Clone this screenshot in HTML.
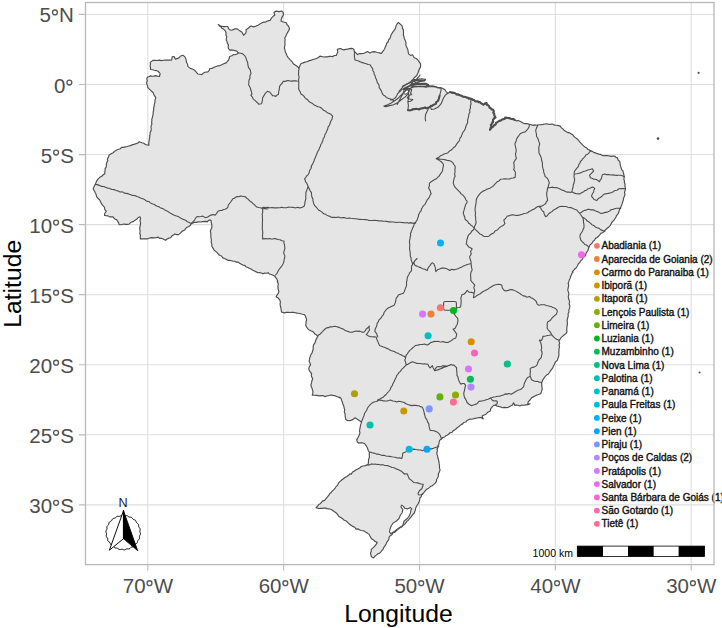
<!DOCTYPE html>
<html><head><meta charset="utf-8"><style>
html,body{margin:0;padding:0;background:#fff;width:722px;height:628px;overflow:hidden;position:relative}
text{font-family:"Liberation Sans",sans-serif}
.ax{font-size:20.5px;fill:#4D4D4D}
.at{font-size:24.7px;fill:#000}
.lg{font-size:10.0px;fill:#111;stroke:#111;stroke-width:0.38px}
.sb{font-size:10.5px;fill:#000}
</style></head><body>
<svg width="722" height="628" viewBox="0 0 722 628" style="position:absolute;left:0;top:0">
<defs><clipPath id="pc"><rect x="85.5" y="2.5" width="628.5" height="562.1"/></clipPath></defs>
<path d="M85.5 14.44H714.0M85.5 84.50H714.0M85.5 154.56H714.0M85.5 224.62H714.0M85.5 294.68H714.0M85.5 364.74H714.0M85.5 434.80H714.0M85.5 504.86H714.0M147.80 2.5V564.6M283.65 2.5V564.6M419.50 2.5V564.6M555.35 2.5V564.6M691.20 2.5V564.6" stroke="#DEDEDE" stroke-width="1.1" fill="none"/>
<g clip-path="url(#pc)" stroke-linejoin="round" stroke-linecap="round">
<path d="M371.50 556.80 L370.95 555.03 L370.39 553.20 L371.23 551.43 L371.17 549.40 L373.62 547.42 L374.97 545.91 L376.16 544.40 L377.21 542.40 L374.76 541.34 L373.56 539.95 L371.93 539.07 L370.81 537.63 L369.95 536.04 L369.19 534.38 L367.68 533.36 L366.34 532.62 L365.04 531.59 L363.38 530.73 L361.52 530.45 L359.72 530.02 L358.14 528.93 L356.06 529.11 L354.78 527.24 L352.80 526.40 L351.06 525.26 L349.38 524.03 L347.81 522.64 L346.41 521.02 L344.22 520.24 L342.54 518.69 L340.69 517.40 L338.67 516.33 L337.54 514.35 L335.97 512.78 L334.16 511.58 L332.38 510.24 L330.68 509.22 L328.73 508.81 L327.06 508.67 L325.43 508.17 L323.75 508.04 L322.11 508.43 L320.38 508.24 L318.79 508.58 L316.04 507.60 L317.55 506.04 L318.77 504.52 L320.22 503.67 L321.39 502.49 L322.39 501.10 L324.61 500.36 L326.01 498.51 L327.44 496.83 L328.93 495.14 L329.78 493.53 L331.24 492.49 L332.19 490.98 L333.87 489.67 L335.19 488.06 L336.30 486.29 L337.77 484.79 L338.62 482.82 L340.12 481.37 L341.72 480.07 L343.38 478.81 L344.98 477.47 L346.85 476.49 L348.57 475.32 L349.99 473.73 L351.39 474.19 L352.29 472.34 L353.97 471.29 L355.81 470.01 L357.84 469.02 L359.64 467.95 L361.33 466.57 L363.25 466.02 L365.21 465.64 L367.84 464.44 L367.91 464.85 L368.41 462.90 L368.48 461.06 L368.56 459.15 L369.50 457.35 L369.25 455.40 L369.36 452.33 L368.23 450.43 L367.37 447.75 L366.10 445.54 L364.53 443.50 L362.03 442.79 L360.39 442.81 L358.96 443.18 L357.28 442.05 L356.79 439.65 L357.74 438.08 L358.51 436.50 L359.41 434.73 L359.91 432.84 L359.52 430.82 L359.85 428.94 L360.22 427.06 L360.53 425.17 L361.07 423.63 L361.48 422.03 L360.00 420.96 L357.38 419.30 L355.11 417.73 L352.65 419.65 L350.06 420.74 L347.03 420.41 L345.82 419.48 L345.36 417.34 L345.13 415.13 L344.98 413.44 L344.22 411.83 L344.76 410.03 L344.23 408.36 L343.90 406.66 L343.41 405.00 L342.64 403.41 L342.22 401.73 L341.56 400.17 L341.05 398.40 L339.72 397.17 L339.99 397.89 L338.24 397.08 L336.55 396.45 L334.95 395.64 L333.02 395.39 L331.24 394.95 L329.77 395.24 L328.22 395.72 L326.60 395.93 L325.02 396.68 L323.38 395.67 L321.68 395.65 L319.97 395.81 L318.11 395.60 L316.24 395.39 L314.37 395.25 L312.27 395.25 L312.81 393.33 L312.94 391.67 L312.47 390.00 L312.07 388.34 L311.31 386.76 L310.89 385.00 L311.53 382.89 L311.88 380.79 L312.80 378.75 L311.79 377.16 L311.25 375.52 L311.63 373.61 L310.44 372.07 L309.30 370.56 L308.79 368.75 L309.24 366.69 L310.53 365.00 L310.02 362.94 L309.08 361.23 L309.54 359.43 L309.80 357.43 L310.51 355.89 L310.97 354.26 L312.10 352.90 L312.53 351.26 L313.16 349.22 L313.18 347.05 L313.51 344.94 L314.60 343.43 L315.33 341.81 L315.79 340.13 L316.74 338.25 L317.79 336.23 L316.40 334.85 L314.83 333.92 L313.76 332.49 L312.42 331.35 L310.79 330.79 L309.29 329.95 L307.86 328.89 L306.57 327.00 L305.67 324.95 L306.16 323.39 L305.95 321.66 L306.64 319.96 L306.09 318.03 L305.47 316.21 L304.42 314.59 L302.52 314.24 L300.60 313.74 L298.71 313.27 L296.98 313.17 L295.26 312.69 L293.52 312.34 L291.77 312.29 L290.00 312.52 L288.25 312.36 L286.50 312.23 L284.75 312.87 L283.00 312.36 L281.52 312.24 L281.25 310.39 L280.97 308.31 L280.48 306.25 L280.04 304.19 L280.43 302.06 L279.86 300.06 L278.92 298.79 L277.77 297.67 L276.16 297.01 L277.00 295.05 L278.29 293.33 L278.95 291.28 L278.25 289.62 L278.00 287.96 L277.81 286.29 L278.28 284.54 L277.98 282.88 L277.18 281.29 L277.76 281.12 L277.05 279.39 L275.96 277.85 L274.91 276.35 L273.15 275.21 L271.11 274.55 L269.47 274.03 L268.15 272.60 L267.98 272.87 L266.33 273.23 L264.61 273.11 L263.00 273.81 L261.41 273.01 L259.74 272.63 L257.91 272.74 L256.23 271.87 L254.58 271.00 L252.90 270.21 L251.37 269.10 L249.57 268.53 L247.97 267.57 L246.18 266.96 L244.83 265.50 L242.94 265.12 L241.32 264.20 L239.70 263.27 L238.13 262.16 L236.32 262.15 L234.76 261.30 L233.00 261.25 L231.34 260.81 L229.67 260.40 L227.85 260.41 L226.31 259.21 L224.54 258.59 L222.76 257.88 L221.49 256.03 L219.49 255.24 L217.98 253.77 L216.89 252.36 L215.54 251.21 L214.13 250.10 L213.01 248.12 L211.80 246.23 L211.89 244.15 L211.16 242.10 L211.45 240.00 L210.97 237.77 L210.80 235.53 L210.89 233.36 L210.31 231.30 L211.05 229.27 L211.93 227.23 L211.92 225.07 L211.35 223.01 L211.09 220.55 L209.60 219.90 L208.19 220.59 L207.46 221.83 L205.50 221.34 L202.70 221.57 L200.60 221.97 L198.45 221.91 L196.43 222.32 L194.32 222.37 L191.40 223.36 L190.41 225.25 L188.86 226.46 L187.27 227.18 L185.93 228.25 L184.88 229.71 L183.49 230.65 L181.93 231.34 L180.46 233.13 L178.59 234.62 L176.72 234.63 L174.96 233.95 L173.35 235.03 L171.78 236.08 L170.66 237.76 L168.75 238.16 L167.10 239.04 L165.51 240.32 L163.11 238.92 L161.47 238.27 L159.58 238.32 L158.04 237.10 L155.92 237.76 L153.83 237.84 L151.71 237.56 L149.63 237.95 L147.62 238.80 L145.50 238.81 L143.83 238.74 L142.17 238.89 L140.31 238.94 L140.24 237.01 L140.50 235.24 L139.77 233.52 L140.15 231.75 L139.95 230.00 L139.69 228.10 L140.10 226.24 L140.49 224.38 L140.51 222.50 L139.94 220.70 L140.60 218.79 L140.12 216.77 L138.17 217.50 L136.93 219.05 L134.99 220.18 L133.23 221.59 L130.99 222.29 L129.33 223.94 L127.63 224.33 L125.93 224.32 L124.22 224.13 L122.58 224.21 L120.92 224.72 L119.09 224.77 L118.75 222.82 L117.64 221.47 L116.89 219.88 L115.27 219.29 L114.00 218.31 L113.07 216.84 L111.32 216.82 L109.61 216.88 L108.07 215.86 L106.15 215.76 L104.50 215.40 L104.78 213.23 L106.32 211.25 L104.77 209.54 L104.53 207.34 L102.97 205.65 L101.63 203.83 L100.54 201.85 L99.57 199.79 L97.83 198.24 L96.45 196.40 L96.19 194.58 L95.36 192.99 L94.69 191.41 L93.20 188.78 L94.13 186.45 L95.25 184.39 L95.97 182.81 L96.59 181.18 L98.18 178.90 L99.77 177.34 L101.75 176.25 L103.20 174.77 L104.88 173.68 L104.74 172.04 L105.11 170.39 L105.07 168.67 L106.20 167.05 L106.38 165.43 L106.39 163.78 L106.98 162.25 L107.72 160.75 L107.32 159.01 L108.27 157.60 L109.20 154.96 L111.12 153.75 L113.17 152.75 L114.82 151.17 L116.75 150.01 L118.49 149.32 L120.28 148.72 L121.70 147.37 L123.68 147.42 L125.54 146.93 L127.19 146.54 L128.82 146.00 L130.47 145.62 L132.05 144.87 L133.74 144.43 L135.34 143.90 L137.49 143.31 L139.24 141.78 L141.86 142.72 L143.74 143.27 L145.42 144.55 L147.05 144.95 L148.85 145.12 L148.81 143.10 L149.02 141.22 L149.32 139.35 L149.71 137.50 L149.65 135.80 L150.12 134.16 L150.16 132.47 L151.00 130.88 L151.21 129.22 L151.04 127.51 L151.02 125.80 L151.91 124.23 L151.58 122.47 L151.87 120.81 L151.81 119.10 L152.39 117.48 L152.79 115.62 L153.13 113.75 L153.17 111.83 L153.75 110.00 L153.62 108.05 L154.17 106.22 L154.32 104.31 L154.91 102.48 L154.93 100.75 L155.25 99.08 L155.83 97.56 L154.04 95.12 L153.06 92.45 L151.52 91.23 L150.15 89.83 L148.85 88.65 L147.67 87.41 L147.59 85.78 L146.90 84.18 L146.59 82.50 L147.35 80.71 L146.77 78.80 L147.41 77.13 L148.90 76.75 L150.42 75.85 L152.21 76.30 L153.89 76.10 L155.50 75.61 L157.33 76.08 L159.41 76.48 L160.18 73.75 L159.27 72.48 L158.00 71.25 L156.18 70.58 L154.31 70.23 L152.45 69.72 L150.55 69.45 L150.60 67.82 L150.16 66.25 L150.42 64.40 L150.31 62.35 L152.84 60.36 L155.07 60.34 L157.16 60.46 L159.23 60.15 L161.36 60.63 L163.42 60.22 L165.50 60.11 L167.58 60.11 L169.67 60.16 L171.74 59.99 L172.13 56.75 L174.17 56.51 L174.67 57.84 L175.50 59.25 L177.01 58.65 L178.57 58.12 L180.78 55.93 L182.96 55.21 L184.94 56.88 L185.78 58.70 L186.28 60.59 L186.56 62.57 L187.63 64.29 L187.84 66.39 L190.27 68.36 L192.38 69.00 L194.31 69.91 L195.51 71.24 L196.63 72.62 L197.89 73.96 L199.85 74.23 L201.77 74.63 L203.18 73.18 L204.90 72.20 L207.89 71.81 L209.19 70.41 L209.90 68.46 L211.86 68.36 L213.56 67.58 L215.42 66.70 L217.42 65.91 L219.40 65.60 L221.27 64.96 L223.75 63.75 L226.11 62.84 L227.46 61.46 L228.67 59.88 L229.27 58.29 L229.64 56.47 L231.96 55.81 L233.25 54.65 L235.04 54.71 L237.02 54.02 L238.47 53.02 L236.78 51.13 L233.75 50.22 L231.84 49.88 L229.88 50.14 L228.51 48.69 L228.14 46.79 L228.49 44.81 L227.32 43.31 L227.10 41.54 L226.18 39.96 L226.42 38.23 L226.71 36.54 L225.87 34.94 L226.18 33.15 L225.61 31.50 L224.64 30.08 L223.33 29.04 L221.84 28.18 L220.92 26.72 L219.39 26.01 L218.24 24.59 L220.14 25.78 L222.50 26.49 L224.17 26.56 L225.84 26.52 L227.67 26.53 L228.52 28.28 L229.37 29.75 L231.83 30.20 L234.81 28.86 L237.34 28.92 L239.70 30.83 L242.06 32.17 L243.63 35.28 L245.66 33.20 L246.20 31.58 L246.05 29.78 L248.53 28.01 L249.78 26.78 L251.11 26.05 L253.59 26.88 L256.06 26.08 L257.97 25.19 L259.81 24.12 L261.57 23.03 L263.46 22.17 L265.55 22.13 L267.22 21.02 L270.03 20.32 L271.54 17.94 L273.45 16.05 L274.81 15.00 L273.94 12.41 L276.07 11.09 L279.24 11.61 L281.60 10.93 L283.24 12.61 L283.39 14.97 L281.96 17.36 L281.32 19.23 L281.06 21.23 L283.43 21.98 L286.25 22.78 L287.09 24.78 L288.54 26.18 L289.57 28.70 L288.39 31.13 L286.86 33.80 L285.78 36.34 L284.72 37.99 L285.13 39.93 L284.83 41.57 L284.94 43.23 L284.98 44.90 L284.58 46.57 L284.37 48.23 L285.01 49.86 L285.27 51.79 L286.17 53.53 L286.90 55.52 L287.98 57.35 L290.03 59.71 L291.27 60.93 L292.48 62.21 L293.30 63.86 L294.80 64.80 L297.44 66.49 L298.57 67.82 L299.12 67.75 L299.96 65.60 L301.05 63.50 L303.04 62.86 L304.88 62.15 L306.83 61.74 L308.63 60.90 L310.55 60.40 L312.42 59.80 L314.40 59.18 L316.41 58.56 L318.23 57.45 L319.99 56.17 L321.89 56.55 L323.75 57.02 L325.62 56.89 L327.49 56.85 L329.11 56.36 L330.80 56.30 L332.57 56.66 L334.31 55.54 L336.25 55.50 L336.98 53.79 L337.82 52.05 L337.30 49.34 L339.99 48.54 L341.95 49.16 L343.75 49.91 L345.61 49.33 L347.61 49.14 L349.44 48.68 L351.18 48.33 L352.77 48.66 L354.06 49.72 L354.34 51.35 L354.24 51.49 L356.02 52.86 L357.47 54.57 L359.29 53.68 L361.22 53.66 L363.25 53.49 L365.12 52.77 L367.50 51.57 L369.91 52.91 L371.85 52.03 L373.75 51.65 L375.67 51.94 L377.50 52.52 L379.35 52.91 L381.40 53.37 L382.65 51.63 L383.86 50.07 L384.80 48.44 L385.38 46.65 L386.29 45.02 L386.71 43.15 L388.14 41.78 L388.53 39.89 L389.92 38.50 L390.53 36.73 L391.10 34.91 L392.22 32.94 L393.56 31.14 L394.69 29.64 L395.58 28.00 L395.94 26.09 L396.91 24.19 L398.25 22.52 L399.95 23.81 L401.08 24.94 L402.22 26.14 L402.41 28.15 L403.43 29.91 L403.43 31.64 L403.53 33.33 L403.34 35.08 L404.04 36.70 L404.25 38.42 L405.02 39.99 L405.65 41.61 L406.05 43.28 L405.85 45.10 L406.49 46.71 L407.25 48.29 L407.91 49.88 L408.13 51.87 L408.62 53.84 L410.52 55.43 L412.55 54.79 L413.38 56.34 L414.23 57.77 L416.16 58.56 L417.80 59.70 L418.61 61.16 L419.55 62.45 L420.62 63.91 L420.55 66.87 L419.07 69.63 L418.15 72.53 L417.38 74.07 L416.62 75.69 L414.15 77.68 L413.37 79.29 L411.75 80.42 L413.63 81.16 L415.07 82.11 L416.79 83.51 L418.88 84.09 L420.50 84.80 L422.23 84.51 L423.95 84.36 L425.66 84.51 L427.26 85.01 L428.84 85.55 L430.40 86.12 L432.51 85.90 L434.39 86.60 L436.37 86.93 L437.85 87.92 L439.61 87.52 L441.31 87.78 L443.29 88.78 L445.11 90.02 L446.25 91.81 L447.91 93.35 L450.03 92.25 L451.47 92.93 L453.15 93.40 L454.98 93.42 L456.69 93.83 L458.14 95.04 L459.86 95.44 L461.74 95.40 L463.22 96.51 L464.97 96.83 L466.64 97.39 L468.31 97.89 L470.02 98.28 L471.77 98.69 L473.34 99.77 L474.95 100.67 L476.48 101.57 L478.31 101.20 L479.70 102.26 L481.73 103.21 L483.23 104.77 L484.98 104.36 L486.44 103.58 L487.68 104.63 L489.08 105.77 L489.92 107.38 L491.62 108.56 L492.88 110.10 L493.87 111.95 L494.12 114.06 L494.53 115.91 L496.12 117.46 L494.51 118.71 L492.96 119.75 L492.13 121.86 L491.89 124.13 L491.37 126.08 L490.81 128.04 L489.81 130.27 L491.39 128.05 L493.36 126.66 L495.10 125.10 L496.40 123.09 L498.03 121.79 L500.02 121.05 L501.54 120.00 L503.11 118.91 L504.94 118.42 L506.48 117.24 L508.20 117.60 L509.92 117.77 L511.39 118.98 L513.01 119.69 L514.76 120.01 L516.35 120.81 L518.26 120.56 L519.88 121.27 L521.47 122.05 L523.00 123.02 L524.68 123.59 L526.46 123.53 L528.12 123.85 L529.71 124.44 L531.37 124.73 L532.98 125.35 L534.70 124.91 L536.40 125.24 L538.06 124.95 L539.73 124.79 L541.39 124.62 L543.06 124.35 L544.71 123.97 L546.40 123.84 L548.06 124.00 L549.68 124.50 L551.38 124.00 L553.05 124.23 L554.69 125.22 L556.56 125.28 L558.36 125.62 L560.20 126.13 L561.22 127.66 L562.59 128.62 L563.93 130.20 L565.65 131.21 L567.27 132.37 L569.28 132.82 L571.03 133.68 L572.71 134.71 L573.75 136.12 L574.87 137.39 L576.28 138.34 L577.66 139.33 L578.80 140.70 L579.92 142.08 L581.14 143.36 L582.34 144.66 L583.54 145.89 L584.90 146.94 L586.46 147.73 L587.95 149.51 L590.09 150.34 L591.24 151.03 L592.77 151.60 L594.08 152.62 L595.75 152.91 L597.17 153.67 L599.09 154.18 L601.05 154.62 L602.85 155.78 L604.85 155.64 L606.81 155.54 L608.75 155.74 L610.65 156.40 L612.62 156.09 L614.62 155.98 L615.89 157.23 L617.38 157.86 L618.05 159.91 L619.75 161.51 L620.09 163.59 L620.44 165.63 L621.07 167.58 L621.65 169.54 L623.05 171.23 L623.48 173.25 L623.96 175.19 L624.22 177.14 L623.85 179.20 L624.44 180.84 L624.37 182.58 L625.11 184.21 L624.91 185.94 L625.29 187.54 L625.46 189.16 L624.99 190.76 L624.52 192.65 L624.94 194.72 L624.19 196.58 L623.52 198.51 L623.22 200.57 L622.44 202.47 L622.05 204.10 L621.42 205.63 L620.79 207.16 L619.92 208.61 L619.29 210.14 L618.93 211.77 L618.35 213.30 L617.37 214.63 L616.36 215.94 L615.77 217.63 L614.70 219.02 L613.81 220.53 L612.41 221.68 L611.29 223.43 L610.34 225.33 L609.01 226.94 L607.51 228.06 L606.11 229.25 L604.77 230.49 L603.78 231.85 L602.45 232.77 L600.85 233.37 L599.73 234.85 L598.52 236.22 L597.21 237.50 L595.51 238.38 L594.62 240.09 L593.15 241.22 L592.33 242.63 L591.32 243.90 L590.01 244.98 L588.92 246.89 L588.46 249.08 L587.62 251.09 L586.23 252.81 L585.67 254.67 L584.85 256.38 L583.20 257.56 L582.26 259.43 L580.68 260.82 L579.68 262.67 L578.36 263.71 L577.70 265.23 L576.94 266.68 L576.08 268.06 L574.72 269.07 L573.69 270.32 L572.51 271.74 L573.08 272.17 L571.90 273.45 L571.36 275.05 L570.52 276.67 L570.10 278.46 L569.27 280.06 L568.78 281.67 L568.14 283.30 L568.76 285.22 L568.31 287.05 L567.92 288.91 L567.88 290.79 L568.68 292.61 L568.85 294.45 L568.31 296.38 L568.47 298.24 L569.10 300.06 L569.67 301.88 L569.07 303.81 L569.74 305.61 L569.83 306.74 L569.53 308.38 L568.80 310.01 L569.01 312.00 L568.09 313.74 L568.22 315.69 L567.87 317.52 L567.29 319.34 L567.12 321.20 L567.51 323.12 L567.29 324.97 L566.94 326.81 L566.76 328.47 L566.81 330.14 L566.96 331.90 L565.92 333.62 L563.37 335.57 L561.03 337.69 L559.35 340.46 L559.24 340.01 L559.07 341.68 L559.72 343.35 L559.00 345.02 L559.56 346.73 L559.04 348.39 L559.01 350.07 L558.81 352.16 L558.97 354.27 L558.74 356.37 L557.97 358.23 L557.47 360.18 L555.40 361.95 L554.31 364.57 L553.37 366.15 L552.76 367.89 L551.03 370.15 L549.24 372.74 L548.14 374.15 L546.54 375.07 L545.28 376.32 L544.23 377.78 L542.57 380.41 L541.70 382.80 L541.78 385.93 L542.26 389.09 L541.49 391.63 L540.66 393.77 L537.92 394.81 L536.01 395.38 L534.33 396.37 L531.53 397.81 L530.01 400.03 L528.27 401.60 L527.63 404.35 L529.99 403.71 L528.12 404.68 L526.00 404.90 L523.95 405.24 L521.82 404.96 L519.82 405.93 L518.13 405.28 L516.47 405.15 L514.93 405.44 L513.58 402.83 L512.49 405.09 L509.58 406.43 L507.95 407.46 L506.07 407.69 L504.27 407.38 L502.25 407.70 L500.49 406.84 L498.73 406.44 L496.85 406.18 L495.49 405.03 L493.86 405.34 L492.63 406.41 L490.78 408.54 L490.06 411.33 L487.84 412.21 L486.28 413.97 L484.25 414.95 L482.04 416.08 L483.18 418.89 L481.04 417.61 L479.03 417.59 L476.98 417.96 L474.98 418.41 L473.43 418.75 L471.89 419.24 L470.13 419.05 L468.63 419.75 L466.94 420.52 L465.70 422.01 L463.85 422.45 L462.60 423.88 L461.15 424.63 L459.85 425.61 L458.78 426.85 L457.25 427.54 L456.20 428.81 L454.96 429.84 L453.31 430.61 L452.20 432.20 L450.25 432.53 L448.94 433.80 L447.55 434.98 L445.85 435.66 L444.62 437.04 L442.76 437.47 L441.46 438.76 L440.10 439.88 L439.27 441.27 L439.05 442.90 L438.78 444.51 L437.79 445.89 L437.90 447.58 L437.05 449.14 L437.39 450.86 L436.87 452.51 L436.91 454.25 L437.59 455.85 L437.85 457.52 L438.42 459.56 L438.95 461.61 L439.16 463.68 L439.48 465.77 L439.48 467.94 L440.06 470.00 L439.36 471.90 L438.40 473.69 L438.41 475.81 L437.63 477.72 L436.57 479.52 L436.38 481.70 L435.25 483.18 L433.89 484.40 L432.24 485.70 L430.38 486.60 L428.66 488.14 L426.65 489.34 L425.19 490.74 L424.00 492.38 L422.61 493.58 L421.62 495.11 L421.20 496.69 L419.84 497.84 L419.72 499.88 L419.09 501.72 L418.38 503.49 L417.19 505.05 L416.29 506.67 L415.67 508.40 L415.28 510.24 L414.66 511.73 L414.12 513.27 L412.89 514.43 L411.79 515.90 L410.77 517.45 L409.40 518.72 L408.34 520.27 L406.80 521.41 L405.75 522.95 L404.61 524.44 L402.80 525.15 L401.85 526.93 L399.92 527.78 L398.32 529.07 L396.74 530.39 L395.05 531.96 L392.83 532.91 L391.86 534.86 L390.06 535.97 L389.01 537.25 L388.92 539.01 L388.14 540.42 L386.88 542.16 L386.03 544.10 L384.99 545.93 L383.80 547.26 L383.18 549.03 L382.01 550.38 L380.93 551.82 L379.63 553.21 L377.71 553.83 L376.34 555.10 L374.93 556.25 L373.65 557.94 L371.50 556.80 Z" fill="#E5E5E5" stroke="#4D4D4D" stroke-width="1.15"/>
<path d="M401.60 505.10 L400.90 507.00 L402.80 509.60 L402.20 512.70 L400.30 515.30 L399.00 518.50 L396.50 521.00 L393.30 522.90 L391.40 525.50 L390.10 528.70 L389.50 531.80 L390.70 533.80 L394.60 531.20 L399.60 527.40 L402.80 525.50 L404.10 521.00 L407.30 518.50 L409.20 515.90 L410.50 512.70 L411.10 509.60 L411.80 508.90 L410.50 507.60 L407.30 508.90 L404.70 508.30 L403.50 506.40 L401.60 505.10 Z" fill="#FFFFFF" stroke="#4D4D4D" stroke-width="1.1"/>
<path d="M404.30 89.60 L407.60 89.20 L408.60 91.50 L407.20 93.80 L404.60 94.20 L403.40 92.30 L404.30 89.60 Z" fill="#FFFFFF" stroke="#4D4D4D" stroke-width="1.0"/>
<path d="M238.90 53.00 L240.66 53.27 L242.38 53.64 L244.67 55.71 L245.57 57.04 L246.19 58.60 L246.74 60.52 L247.62 62.34 L247.79 64.04 L248.11 65.69 L248.41 67.38 L250.27 69.89 L250.54 71.62 L251.09 73.30 L250.18 74.91 L249.86 76.60 L249.92 78.36 L249.03 79.93 L248.82 81.61 L248.82 83.31 L248.62 85.01 L249.63 86.57 L250.42 88.20 L250.78 90.01 L251.56 91.98 L251.92 94.15 L250.79 95.18 L252.23 96.96 L253.32 99.08 L254.98 100.32 L256.43 101.78 L257.64 102.86 L258.68 104.20 L261.60 103.70 L262.16 101.83 L262.47 99.89 L262.54 98.23 L263.24 96.73 L264.25 95.14 L265.18 93.47 L267.43 91.35 L269.98 92.29 L271.31 93.98 L272.48 95.67 L274.14 95.69 L275.85 96.38 L277.00 95.10 L278.53 94.21 L278.62 91.59 L279.23 89.99 L279.34 88.37 L279.58 86.49 L280.52 84.90 L282.20 83.26 L283.19 81.18 L284.89 81.41 L286.53 80.86 L288.19 80.49 L289.95 80.97 L291.71 81.15 L293.48 80.86 L295.25 80.80 L297.00 81.05 L298.75 81.25 M354.50 51.25 L354.52 53.00 L354.39 54.75 L354.38 56.50 L354.76 58.25 L354.76 59.77 L356.65 60.54 L358.80 61.09 L360.55 62.09 L362.46 62.63 L364.35 63.19 L366.24 63.79 L368.09 64.49 L370.16 64.80 L371.29 66.85 L372.72 68.64 L372.85 70.72 L374.05 72.40 L374.12 74.24 L375.21 75.73 L375.37 77.55 L376.28 79.12 L376.90 80.81 L377.27 82.59 L378.49 84.04 L379.13 85.72 L379.23 87.62 L380.37 89.38 L381.51 91.10 L382.21 93.32 L383.50 95.20 L385.20 96.05 L386.28 97.45 L388.85 98.51 L391.29 99.37 L393.75 100.50 M412.04 80.39 L410.70 81.74 L409.05 82.71 L407.60 83.68 L406.08 84.54 L404.86 85.69 L403.42 86.36 L401.55 88.33 L400.55 89.72 L399.28 90.98 L398.67 92.67 L397.46 93.97 L396.68 95.78 L395.64 97.47 L394.11 98.63 L392.53 99.59 L390.68 100.00 M298.75 67.50 L299.03 69.22 L298.60 70.94 L298.64 72.66 L298.43 74.38 L298.91 76.09 L298.93 77.81 L298.58 79.53 L298.64 81.25 L298.89 83.00 L298.62 84.75 L298.82 86.50 L298.55 88.25 L299.01 89.91 L300.17 91.76 L301.02 93.93 L302.57 94.93 L303.87 96.13 L304.85 97.65 L306.18 98.82 L307.68 99.82 L308.73 101.28 L310.56 102.60 L312.63 103.55 L314.31 105.09 L316.37 106.01 L318.16 106.76 L320.13 107.23 L321.99 108.57 L323.56 110.29 L325.66 111.19 L327.32 112.80 L329.40 113.46 L331.20 114.56 L332.75 116.34 L332.24 117.69 L331.98 119.35 L331.02 120.70 L330.35 122.18 L330.01 123.80 L329.43 125.32 L328.27 126.59 L327.87 128.19 L327.45 129.77 L326.63 131.19 L326.15 132.75 L325.13 134.08 L324.68 135.65 L324.31 137.26 L323.19 138.55 L323.04 140.25 L322.27 141.69 L321.80 143.25 L320.69 144.54 L320.46 146.21 L319.55 147.59 L319.20 149.20 L318.30 150.59 L317.52 152.02 L316.98 153.56 L316.40 155.07 L315.74 156.56 L315.13 158.06 L314.39 159.51 L314.08 161.14 L313.19 162.53 L312.70 164.09 L311.65 165.40 L310.96 166.88 L311.54 167.12 L310.84 168.70 L309.81 170.14 L309.25 171.78 L308.97 173.53 L307.88 174.92 L306.60 176.03 L305.71 177.54 L304.61 178.77 L305.15 180.27 L305.61 181.88 L306.75 183.18 L307.43 184.69 L308.00 186.25 M471.25 99.50 L470.67 101.59 L471.10 103.79 L470.33 105.81 L470.49 107.95 L469.65 109.94 L469.92 112.15 L468.90 114.11 L468.62 116.22 L468.08 118.28 L467.56 120.35 L467.68 122.55 L466.98 124.11 L466.11 125.57 L465.77 127.25 L465.16 128.82 L464.43 130.40 L463.27 131.76 L462.51 133.32 L461.81 134.90 L461.36 136.65 L460.10 137.98 L459.56 139.68 L458.91 141.35 L457.53 142.94 L456.30 144.62 L455.23 146.45 L453.72 147.47 L452.57 148.82 L451.22 149.96 L449.81 150.76 L448.68 151.92 L447.53 153.06 L445.74 153.42 L444.03 154.00 L442.50 155.01 L440.69 155.55 L439.32 156.98 L437.65 157.71 L436.25 158.75 M436.25 158.75 L438.13 158.84 L440.00 159.11 L441.88 159.25 L443.76 159.46 L445.64 159.87 L447.47 160.49 L449.41 160.64 L451.20 161.33 L452.78 162.71 L453.86 164.50 L455.11 166.21 L455.26 167.92 L454.82 169.58 L455.14 171.25 L454.79 172.92 L454.67 174.58 L455.18 176.27 L454.23 178.05 L453.79 179.94 L453.38 181.84 L453.34 183.69 L454.11 185.40 L455.09 187.13 L456.36 188.66 L457.64 189.86 L458.85 191.15 L460.12 192.38 L461.10 193.90 L462.58 194.92 L463.79 196.21 L464.92 197.56 L465.72 199.53 L467.15 201.23 L466.81 202.91 L465.68 204.27 L465.27 205.86 L464.80 207.43 L464.32 209.16 L463.84 210.90 L463.25 212.51 L463.63 214.02 L464.03 215.62 L464.80 217.09 L464.88 218.82 L466.13 220.28 L467.76 221.35 L468.58 223.17 L470.00 224.08 L471.05 225.39 L472.51 226.24 L474.25 228.25 M436.25 158.75 L437.91 159.60 L439.48 160.61 L441.02 161.49 L442.63 163.04 L443.56 165.04 L443.19 166.63 L442.80 168.31 L442.76 170.10 L441.97 171.82 L440.91 173.37 L439.86 174.90 L438.88 176.38 L437.50 177.50 L436.33 178.85 L434.24 179.79 L432.34 180.97 L430.05 182.55 L429.24 184.08 L429.47 185.91 L428.53 187.51 L429.12 189.16 L430.23 190.53 L430.49 192.24 L431.21 193.75 L430.03 195.14 L429.55 196.98 L428.41 198.42 L427.27 199.85 L426.42 201.44 L425.61 203.08 L424.75 204.67 L423.24 205.82 L422.52 207.51 L421.43 208.84 L421.23 210.62 L420.05 211.90 L419.30 213.40 L418.47 214.88 L418.42 216.78 L417.54 218.33 L417.10 220.07 L415.98 221.53 L415.50 223.25 M529.50 124.50 L529.17 126.51 L528.30 128.34 L526.83 130.13 L525.23 131.88 L523.60 132.27 L522.10 132.84 L520.61 133.41 L519.52 134.72 L518.53 136.11 L517.46 137.39 L516.62 138.93 L516.32 140.69 L515.53 142.29 L514.89 144.00 L515.39 146.26 L515.88 148.43 L516.19 150.29 L515.99 152.15 L515.43 154.00 L515.85 156.26 L516.41 158.53 L515.32 159.91 L514.43 161.31 L513.67 162.84 L514.10 164.57 L514.04 166.25 L514.26 167.93 L513.57 169.68 L514.93 171.16 L515.44 172.92 L515.32 175.15 L515.05 177.36 L513.23 177.95 L511.30 178.31 L509.50 179.03 L507.23 178.94 L505.02 178.78 L502.80 179.07 L500.48 179.32 L499.04 180.96 L497.11 181.80 L494.93 184.03 L493.91 185.41 L492.64 186.52 L491.18 187.39 L489.70 188.17 L488.15 188.81 L486.57 189.39 L485.14 190.25 L483.04 191.13 L481.21 192.45 L479.98 193.73 L478.84 195.07 L477.72 196.57 L476.87 198.23 L476.22 199.99 L476.23 201.92 L475.88 203.79 L475.56 205.67 L475.30 207.52 L475.02 209.38 L475.22 211.25 L475.59 213.11 L475.21 215.02 L475.59 216.88 L475.67 218.77 L475.83 220.65 L476.12 222.48 L475.57 224.41 L474.59 226.22 L474.25 228.25 M537.90 125.00 L537.05 126.82 L536.24 128.66 L535.69 130.60 L536.06 132.47 L536.51 134.32 L536.45 136.29 L537.50 137.71 L538.16 139.23 L538.64 140.82 L539.20 142.38 L539.72 144.00 L539.21 145.70 L538.78 147.33 L538.79 149.16 L538.97 151.02 L538.95 152.91 L540.05 155.02 L540.99 157.20 L541.47 159.10 L541.80 161.04 L542.48 162.88 L542.40 164.78 L542.52 166.65 L542.96 168.49 L543.62 169.98 L543.62 171.66 L544.04 173.23 L544.73 174.72 L545.01 176.36 L546.90 177.85 L548.25 179.77 L548.82 181.37 L549.39 182.99 L548.63 184.51 L548.44 186.34 L547.60 187.90 M474.25 228.25 L476.05 230.21 L477.41 231.34 L478.61 232.64 L479.82 233.98 L481.97 234.86 L483.72 236.34 L485.42 236.54 L487.08 236.52 L488.77 236.30 L490.27 234.81 L492.05 233.70 L493.97 232.78 L494.82 231.28 L496.17 230.40 L497.70 229.75 L498.73 228.47 L499.87 227.33 L501.59 226.14 L503.51 225.24 L504.89 223.71 L504.33 221.89 L503.84 220.02 L505.16 218.91 L506.25 217.50 L507.35 215.99 L509.18 215.88 L510.75 215.09 L512.48 214.71 L514.19 214.94 L515.82 215.47 L517.49 215.34 L519.19 215.30 L520.79 214.60 L522.42 214.24 L524.04 213.51 L525.89 213.30 L527.61 212.74 L529.08 211.49 L530.75 210.66 L532.33 209.69 L534.12 209.15 L535.55 208.00 L537.05 206.96 L538.75 206.25 M530.35 376.50 L527.96 377.33 L526.45 378.95 L525.22 381.50 L524.07 384.07 L523.95 385.67 L523.25 387.09 L521.42 388.91 L519.65 389.71 L517.76 390.35 L515.33 391.78 L512.93 393.17 L511.49 394.22 L508.95 393.44 L507.11 394.12 L505.12 393.92 L503.35 394.94 L501.46 395.56 L499.61 396.32 L497.53 396.29 L495.71 396.79 L493.80 397.00 L492.26 397.50 L490.70 397.90 M591.26 150.97 L589.77 151.68 L588.83 153.12 L587.61 154.14 L585.83 154.92 L584.95 156.63 L583.71 157.95 L582.44 159.00 L581.64 160.42 L580.34 161.50 L580.03 163.19 L578.83 164.42 L578.51 166.08 L577.61 167.44 L576.45 168.59 L575.62 169.99 L574.48 171.23 L574.13 173.26 L574.12 175.24 L574.01 177.25 L574.70 179.13 L574.41 181.10 L574.01 183.06 L573.22 184.91 L573.08 186.88 L572.52 188.75 L571.84 191.75 M574.50 174.00 L576.77 173.75 L578.98 173.21 L581.22 172.62 L583.31 171.51 L585.62 171.01 L587.78 170.05 L590.06 169.57 L592.42 168.76 L593.62 171.21 L592.13 172.53 L590.94 173.94 L589.53 175.11 L590.38 177.71 L591.84 178.17 L593.36 179.15 L595.11 179.24 L596.80 179.61 L598.10 180.83 L599.58 181.70 L600.11 180.01 L601.39 178.57 L601.81 176.57 L602.38 174.68 L604.61 174.09 L606.75 174.64 L609.01 174.50 L610.85 174.95 L612.74 174.84 L614.60 175.15 L616.54 175.37 L618.51 175.27 L620.47 175.25 L622.41 175.68 L624.30 176.80 M571.84 191.75 L574.45 193.14 L576.64 193.79 L578.89 193.87 L580.56 193.65 L581.80 192.37 L583.46 191.91 L584.71 190.65 L586.43 190.16 L587.68 188.88 L589.37 188.47 L590.87 187.71 L592.29 186.99 L593.72 187.61 L594.84 188.56 L593.94 189.99 L593.65 191.91 L592.82 193.30 L591.96 194.68 L591.53 196.33 L592.88 197.93 L594.07 199.48 L596.86 200.52 L598.26 198.57 L600.22 197.55 L601.75 196.50 L602.95 195.00 L604.55 193.99 L606.41 193.60 L608.27 193.40 L610.07 192.91 L611.73 192.49 L613.24 191.74 L614.55 190.58 L616.95 190.17 L619.03 188.80 L621.26 188.51 L623.50 188.62 L625.20 188.80 M538.83 206.31 L540.85 208.19 L541.50 209.73 L542.52 210.99 L543.87 212.04 L544.09 213.86 L544.89 215.41 L545.66 216.66 L547.32 215.77 L548.42 213.95 L549.75 213.00 L551.10 212.10 L552.47 211.22 L553.56 209.98 L555.10 209.33 L556.43 208.46 L558.25 207.29 L560.24 206.52 L562.13 206.40 L564.05 206.54 L566.08 206.57 L567.98 207.18 L569.58 207.58 L571.26 207.65 L572.70 208.57 L574.72 209.31 L576.87 209.95 L578.11 211.69 L579.61 213.11 M579.61 213.11 L581.31 212.42 L582.75 211.23 L584.39 210.38 L586.11 210.20 L587.62 209.37 L589.32 209.42 L591.22 209.86 L593.28 209.81 L595.11 210.71 L597.09 211.43 L598.99 212.36 L600.93 213.43 L602.97 213.13 L604.85 212.40 L606.87 212.38 L608.35 211.59 L609.86 210.98 L611.01 209.65 L612.71 209.52 L614.53 208.70 L616.46 208.31 L618.45 208.32 L620.78 208.64 M579.61 213.11 L580.49 214.47 L581.43 215.78 L582.29 217.22 L584.28 218.11 L585.96 219.33 L587.23 221.05 L589.07 222.07 L590.67 223.39 L592.10 224.95 L593.97 225.53 L595.32 226.95 L597.09 227.66 L599.17 228.36 L600.84 229.88 L602.89 230.63 L604.85 231.55 M582.52 216.99 L583.12 218.55 L583.43 220.17 L583.43 221.85 L583.86 223.77 L584.02 225.71 L583.91 227.67 L583.16 229.31 L582.51 230.99 L581.62 232.55 L580.36 234.36 L579.87 236.44 L580.31 238.30 L580.88 240.12 L582.17 241.61 L583.69 242.98 L584.76 244.46 L586.49 245.04 L588.93 247.09 M547.57 187.86 L547.29 189.56 L547.19 191.28 L546.60 192.92 L546.75 194.66 L546.92 196.60 L547.36 198.53 L547.63 200.50 L546.33 201.58 L545.86 203.25 L544.68 204.40 L542.81 205.52 L540.81 206.42 L538.83 206.31 M547.57 187.86 L549.19 187.76 L550.80 187.46 L552.43 187.14 L554.04 187.72 L555.68 187.53 L557.32 187.69 L558.93 188.44 L560.48 189.25 L562.01 190.14 L563.77 190.43 L565.24 191.43 L566.88 192.09 L568.97 192.06 L570.82 192.42 L571.84 191.75 M95.50 184.50 L97.14 184.61 L98.65 185.12 L100.14 185.76 L101.61 186.41 L103.26 186.47 L104.81 186.90 L106.32 187.43 L107.75 188.24 L109.41 188.26 L110.83 189.11 L112.38 189.51 L114.03 189.59 L115.49 190.31 L117.04 190.69 L118.59 191.11 L120.01 191.96 L121.73 191.78 L123.28 192.18 L124.63 193.26 L126.28 193.33 L127.86 193.63 L129.37 194.17 L130.90 194.64 L132.32 195.49 L134.01 195.42 L135.54 195.87 L137.01 196.57 L138.55 196.99 L139.98 197.70 L141.42 198.35 L143.01 198.76 L144.49 199.39 L145.71 200.53 L147.09 201.35 L148.84 201.47 L150.04 202.65 L151.42 203.46 L152.93 204.05 L154.50 204.50 L155.74 205.60 L157.19 206.28 L158.80 206.66 L160.08 207.68 L161.65 208.14 L163.14 208.75 L164.47 209.67 L165.90 210.39 L167.31 211.16 L168.66 212.05 L170.03 212.90 L171.42 213.71 L172.85 214.44 L174.27 215.18 L175.77 215.78 L177.36 216.20 L178.83 216.84 L180.12 217.86 L181.57 218.53 L182.96 219.35 L184.58 219.70 L185.98 220.49 L187.17 221.69 L188.71 222.21 L190.11 223.00 L191.60 223.60 M308.00 186.25 L307.70 188.02 L307.03 189.65 L306.39 191.28 L305.81 192.98 L305.95 194.75 L305.64 196.49 L305.94 198.27 L305.49 200.00 L304.92 202.04 L304.82 204.16 L304.24 206.07 L302.41 207.24 L300.90 207.59 L299.30 207.86 L297.70 207.32 L296.10 207.77 L294.50 207.85 L292.90 207.33 L291.30 207.25 L289.70 207.26 L288.10 207.17 L286.50 207.71 L284.90 207.80 L283.30 207.77 L281.70 207.16 L280.10 207.78 L278.50 207.75 L276.90 207.85 L275.30 207.82 L273.70 207.83 L272.10 207.61 L270.50 207.74 L268.90 207.64 L267.30 207.19 L265.70 207.74 L264.10 207.27 L262.50 207.50 M308.00 186.25 L308.77 187.84 L309.54 189.42 L310.23 191.04 L311.40 192.44 L311.50 194.13 L311.69 195.78 L312.03 197.39 L312.90 198.88 L312.93 200.56 L313.31 202.16 L313.75 203.75 L314.73 205.62 L316.23 207.10 L317.53 208.72 L318.55 210.00 L319.94 210.83 L321.34 211.64 L322.59 212.64 L323.75 213.75 L325.38 214.10 L326.72 215.12 L328.18 215.86 L329.77 216.30 L331.19 217.24 L332.86 217.41 L334.50 217.24 L336.12 217.43 L337.77 217.12 L339.39 217.18 L340.98 217.94 L342.63 217.55 L344.26 217.59 L345.86 218.19 L347.48 218.18 L349.32 217.94 L351.09 218.30 L352.88 218.46 L354.66 218.69 L356.47 218.72 L358.21 219.30 L360.01 219.36 L361.79 219.57 L363.59 219.56 L365.38 219.65 L367.17 219.74 L368.91 220.48 L370.70 220.53 L372.50 220.54 L374.31 220.37 L376.09 220.53 L377.88 220.66 L379.65 220.94 L381.45 220.90 L383.23 221.20 L385.02 221.29 L386.68 221.39 L388.33 221.83 L390.00 221.80 L391.67 221.93 L393.34 221.95 L395.00 222.19 L396.65 222.48 L398.34 222.25 L400.02 222.19 L401.72 222.57 L403.45 222.58 L405.16 222.95 L406.90 222.55 L408.60 223.18 L410.35 222.65 L412.05 223.11 L413.78 223.13 L415.50 223.25 M551.81 334.82 L552.91 336.11 L554.00 337.43 L555.30 338.43 L556.68 339.30 L559.05 340.17 M530.35 376.50 L530.95 378.09 L531.49 379.78 L534.07 381.08 L535.97 381.48 L537.93 381.39 L539.41 382.18 L541.03 382.21 L541.68 382.80 M317.50 336.25 L318.66 334.91 L320.25 334.00 L321.48 332.73 L322.71 331.46 L323.90 330.15 L325.14 328.98 L326.55 327.83 L328.36 327.67 L329.96 326.82 L331.69 326.91 L333.33 326.45 L335.00 326.29 L336.66 326.70 L338.32 327.14 L339.92 327.72 L341.51 328.64 L343.38 329.07 L344.90 330.20 L346.54 331.08 L348.37 331.60 L350.03 332.23 L351.67 332.08 L353.38 331.85 L355.00 331.27 L356.67 331.02 L358.33 331.40 L360.02 331.13 L361.79 332.14 L363.67 332.27 L365.05 330.87 L366.18 329.12 L367.74 327.75 L369.33 326.00 L369.10 328.14 L369.56 330.02 L368.49 331.55 L367.50 333.12 L366.25 334.50 L367.99 335.66 L369.90 336.60 L372.05 336.81 L374.16 336.83 L376.25 337.00 M376.25 337.00 L376.75 339.16 L377.77 341.14 L378.26 342.71 L378.95 344.21 L379.85 345.69 L381.66 346.18 L383.30 346.92 L385.04 347.41 L386.66 348.35 L388.46 348.91 L389.95 350.12 L391.54 350.69 L393.18 351.10 L394.72 351.79 L396.19 352.66 L397.93 353.13 L399.46 354.14 L401.09 354.80 L402.53 355.70 L404.25 356.26 L405.50 357.50 M406.20 365.10 L404.73 366.43 L403.44 367.94 L401.64 369.44 L400.33 371.41 L398.85 372.61 L397.91 374.25 L396.63 375.66 L396.18 377.27 L395.33 378.68 L394.65 380.17 L393.88 382.01 L392.88 383.77 L392.32 385.71 L391.17 386.93 L390.55 388.47 L389.92 390.00 L388.84 391.25 L387.42 392.79 L386.15 394.48 L384.49 395.79 L383.21 397.18 L381.55 398.07 L379.99 399.08 L377.50 400.00 M412.59 264.09 L414.31 261.44 L416.30 259.01 L417.14 258.59 L415.16 260.35 L413.80 262.83 L415.02 265.42 L417.07 266.14 L418.92 267.14 L420.84 267.65 L422.58 268.71 L424.92 269.30 L427.12 270.65 L427.85 268.54 L428.86 266.84 L430.16 265.32 L431.11 263.93 L432.13 262.76 L433.79 263.63 L434.61 265.67 L435.38 267.84 L435.40 269.78 L435.87 271.61 L437.66 269.61 L439.61 269.01 L441.44 268.15 L444.04 268.02 L446.71 268.83 L448.23 269.55 L449.74 270.46 L451.62 269.22 L454.13 269.85 L456.05 269.22 L457.98 268.70 L459.93 267.84 L461.81 266.92 L463.54 265.90 L465.42 265.25 L467.26 264.47 L469.21 264.04 L471.12 263.46 M191.60 223.60 L192.98 221.73 L194.61 220.07 L195.55 218.12 L197.12 216.66 L199.24 216.73 L200.95 216.52 L202.78 216.14 L205.51 217.69 L207.61 217.05 L209.23 216.06 L210.86 215.09 L213.10 214.59 L215.13 215.14 L216.69 213.36 L217.95 211.27 L219.99 210.47 L221.82 210.48 L223.43 209.58 L225.02 209.27 L226.57 208.53 L227.88 207.23 L228.19 205.30 L229.26 203.75 L230.70 202.01 L231.96 200.18 L232.82 198.77 L234.42 198.21 L235.60 197.23 L237.15 196.62 L238.86 196.68 L240.50 196.05 L242.20 196.25 L243.87 196.51 L245.55 196.87 L246.60 198.18 L248.02 198.98 L249.01 200.26 L250.30 201.45 L251.90 202.35 L253.03 203.71 L254.46 204.60 L255.46 205.96 L256.71 207.07 L258.61 207.56 L260.58 207.72 L262.99 208.83 L264.67 208.47 L266.33 209.00 L268.00 208.75 M262.50 207.50 L262.59 209.14 L262.69 210.79 L262.74 212.43 L262.20 214.08 L262.44 215.72 L262.36 217.37 L262.46 219.01 L262.58 220.66 L262.33 222.30 L262.44 223.95 L262.30 225.59 L262.38 227.24 L262.26 228.88 L262.54 230.53 L262.75 232.17 L262.75 233.82 L262.34 235.46 L262.74 237.11 L262.42 238.83 L264.22 238.84 L265.94 238.43 L267.66 238.95 L269.38 238.41 L271.09 239.01 L272.81 239.00 L274.53 238.55 L276.22 238.91 L278.07 239.53 L280.09 239.74 L281.84 240.74 L283.94 241.06 L283.88 242.99 L284.45 244.62 L284.65 246.25 L284.90 248.40 L284.30 250.44 L283.66 252.50 L284.09 254.19 L284.81 255.78 L284.72 257.48 L284.14 259.30 L283.89 261.30 L283.37 263.21 L282.39 264.94 L281.30 266.71 L279.91 268.26 L278.75 270.00 L277.73 271.71 L276.87 273.52 L275.50 275.00 M415.10 222.55 L414.17 224.19 L413.73 226.06 L412.74 227.65 L412.31 229.22 L411.48 230.69 L411.05 232.27 L410.43 233.81 L410.68 235.51 L410.13 237.04 L410.09 238.66 L409.64 240.19 L409.44 242.27 L409.78 244.37 L409.66 246.46 L409.54 248.58 L409.83 250.67 L410.27 252.74 L410.22 254.45 L410.27 256.15 L411.05 257.72 L411.12 259.75 L411.82 261.61 L412.70 264.06 L412.83 264.17 L411.65 265.88 L411.45 267.89 L411.59 270.06 L410.79 271.63 L409.54 272.89 L408.93 274.47 L408.00 276.05 L407.24 277.76 L407.07 280.05 L406.46 282.25 L406.59 284.51 L406.16 286.69 L405.18 288.87 L404.52 291.17 L403.33 293.20 L401.18 293.95 L398.32 294.98 L397.56 296.70 L396.38 297.98 L395.80 300.14 L395.39 302.39 L394.14 305.24 L391.32 306.46 L389.78 307.27 L388.15 307.98 L386.77 309.07 L385.37 310.76 L384.09 312.49 L383.56 314.66 L382.04 316.13 L381.12 317.93 L378.84 320.15 L378.26 321.96 L377.05 323.44 L376.88 325.27 L376.18 326.92 L375.21 329.01 L374.90 331.32 L376.66 333.62 L377.12 335.29 L377.80 336.90 M474.27 228.22 L473.27 230.00 L471.64 231.27 L470.90 232.78 L469.67 233.90 L468.49 235.08 L467.77 236.74 L467.37 238.51 L466.71 240.17 L466.74 242.12 L466.13 243.94 L467.40 245.15 L468.44 246.67 L470.47 247.76 L472.20 248.99 L470.54 251.51 L471.35 254.05 L469.61 256.49 L469.95 258.46 L470.58 260.29 L471.09 261.83 L471.11 263.46 L471.12 263.46 L471.24 265.69 L471.68 267.88 L472.17 270.00 L470.86 272.50 L470.68 274.42 L470.60 276.29 L470.91 278.13 L470.63 280.21 L472.60 282.74 L474.83 285.06 L473.78 287.62 L474.67 290.14 L474.66 291.77 L474.06 293.29 M474.06 293.29 L473.81 295.50 L473.41 297.72 L475.44 296.66 L477.73 294.96 L480.25 293.75 L482.69 291.74 L485.26 290.52 L487.71 289.21 L490.27 287.42 L492.95 285.74 L495.55 284.82 L498.60 284.24 L500.20 284.52 L501.81 285.06 L502.25 287.67 L503.74 290.06 L505.52 291.09 L508.13 290.37 L510.56 289.59 L513.18 289.88 L515.73 291.12 L518.22 292.39 L519.82 293.57 L520.24 293.72 L521.69 294.85 L523.25 295.90 L525.22 296.14 L526.74 297.19 L529.53 296.47 L530.75 297.68 L532.44 298.20 L534.65 299.93 L536.37 301.64 L537.04 303.78 L538.42 305.19 L541.24 304.74 L542.91 304.74 L544.63 304.74 L546.21 305.50 L547.87 305.80 L549.55 306.29 L551.29 306.62 L552.85 307.53 L554.55 307.94 L556.77 309.57 L557.35 311.20 L556.43 314.08 L554.62 315.67 L552.21 317.74 L550.61 320.02 L549.36 321.04 L547.72 321.66 L547.11 323.96 L547.40 326.01 L547.04 327.87 L547.81 329.20 L548.72 330.45 L550.56 332.48 L551.81 334.82 M551.81 334.82 L549.05 335.31 L547.36 335.44 L545.74 336.01 L542.96 336.37 L542.62 338.06 L541.42 340.47 L539.31 340.05 L540.67 342.41 L541.18 344.36 L541.51 346.30 L541.69 348.23 L540.96 350.08 L541.93 351.88 L542.10 353.85 L541.52 355.68 L541.23 357.72 L538.95 360.01 L537.76 362.59 L536.87 365.37 L534.16 367.12 L531.55 367.56 L530.07 368.83 L530.46 370.86 L530.28 372.73 L530.03 374.63 L530.35 376.50 M474.06 293.29 L471.61 292.39 L468.99 292.09 L467.12 290.33 L465.68 292.49 L464.08 294.09 L462.09 294.54 L461.41 296.42 L460.84 298.27 L461.18 300.24 L461.15 302.10 L460.97 303.99 L460.63 307.03 L458.93 307.51 L456.88 307.70 L456.14 310.19 L455.15 312.16 L454.23 314.15 L456.17 316.74 L457.64 318.33 L457.98 320.38 L457.70 322.24 L457.29 324.23 L456.14 326.03 L455.40 328.10 L453.11 329.16 L455.14 331.70 L456.70 334.14 L456.31 336.12 L455.80 337.97 L453.20 339.05 L451.73 340.31 L450.14 341.34 L448.03 342.40 L446.30 342.46 L444.64 342.12 L443.00 341.58 L441.28 341.93 L439.61 341.69 L437.97 341.20 L436.26 341.46 L434.64 341.37 L433.01 341.87 L431.26 342.23 L429.55 343.53 L427.97 344.88 L426.20 344.75 L424.59 344.06 L422.39 344.47 L420.09 344.46 L417.92 345.14 L415.63 345.43 L414.17 346.66 L412.66 347.75 L411.36 349.08 L409.53 350.58 L408.15 352.49 L407.39 353.90 L406.14 355.11 L405.82 356.78 L405.55 358.43 L404.64 360.00 L405.49 361.64 L405.87 363.36 L406.20 365.10 M406.20 365.10 L408.35 363.91 L410.33 362.86 L412.30 361.77 L414.59 362.49 L416.80 363.41 L418.67 363.52 L420.57 363.47 L422.41 363.94 L424.26 363.83 L426.09 364.05 L427.99 364.36 L428.77 366.39 L430.20 367.89 L432.41 365.63 L432.86 367.23 L433.61 368.73 L434.60 370.15 L435.59 368.34 L436.91 366.81 L438.72 366.50 L440.60 366.73 L442.36 365.87 L444.26 365.91 L446.15 365.93 L448.01 365.67 L449.99 365.14 L448.38 365.50 L446.96 366.43 L445.26 366.60 L443.69 367.13 L442.36 368.30 L440.73 368.67 L439.17 369.23 L437.61 369.79 L436.02 370.27 L434.39 370.72 L436.15 370.34 L437.85 369.87 L439.50 369.27 L441.11 368.59 L442.59 367.54 L444.36 367.26 L446.00 366.65 L447.60 365.91 L449.25 365.33 L450.83 364.43 L452.38 365.09 L454.08 365.05 L455.22 366.50 L456.66 367.67 L456.48 369.62 L456.83 371.47 L456.95 373.37 L456.94 375.33 L457.92 376.79 L458.23 378.49 L458.82 380.38 L459.58 382.23 L460.87 384.17 L462.44 383.57 L464.06 383.45 L465.62 385.44 L464.97 387.77 L464.65 389.74 L464.10 391.65 L463.71 393.53 L464.03 395.43 L464.48 397.38 L465.58 399.08 L466.40 400.68 L467.03 402.48 L469.07 404.26 L471.58 405.69 L474.11 404.82 L476.80 403.86 L479.01 401.41 L481.64 400.92 L484.23 400.55 L486.09 399.84 L488.02 399.32 L490.49 397.94 M490.70 397.90 L491.57 399.27 L492.64 400.37 L494.15 400.95 L495.85 400.86 L497.21 401.33 L497.19 403.81 L495.50 404.90 M379.02 400.03 L381.61 400.36 L383.44 400.91 L385.29 401.01 L387.87 400.84 L390.35 400.04 L392.98 400.98 L394.81 401.28 L396.64 402.09 L398.49 401.36 L400.41 401.46 L402.28 402.01 L404.20 402.55 L405.97 403.72 L407.94 404.51 L409.84 405.12 L411.76 405.63 L413.78 405.37 L415.47 405.37 L417.14 405.66 L418.83 405.71 L420.31 406.61 L422.07 406.93 L422.97 408.60 L423.55 410.32 L424.08 412.11 L424.37 414.02 L424.98 415.92 L425.46 417.87 L426.86 419.56 L427.44 421.61 L428.55 423.33 L429.05 425.26 L429.13 426.90 L429.64 428.43 L430.15 430.34 L432.06 430.47 L433.96 430.81 L435.82 431.57 L437.65 432.31 L439.47 434.22 L440.21 435.38 L440.92 437.24 L441.47 439.16 M361.40 422.06 L362.34 419.86 L363.13 417.60 L364.01 415.80 L364.38 413.81 L365.47 411.98 L366.72 410.27 L367.44 408.05 L368.84 406.25 L370.92 403.91 L373.23 402.28 L374.84 401.69 L376.60 401.50 L379.02 400.03 M369.58 452.27 L371.19 452.40 L372.73 452.90 L374.68 453.17 L376.44 454.13 L378.43 454.16 L380.27 454.83 L382.12 455.41 L384.07 455.35 L385.89 456.07 L387.80 456.21 L389.71 456.40 L391.59 456.77 L393.48 457.06 L395.40 457.21 L397.21 457.98 L399.17 457.87 L401.90 458.46 L402.56 455.49 L402.70 453.29 L405.37 452.12 L407.02 451.31 L408.68 450.59 L410.28 449.77 L412.07 449.69 L413.77 449.13 L415.65 449.56 L417.51 449.78 L419.19 450.00 L420.95 449.94 L422.60 450.68 L424.78 449.82 L427.04 449.47 L429.19 448.89 L431.47 448.89 L433.40 448.30 L435.23 447.56 L437.76 446.93 L438.95 446.08 M367.94 464.86 L369.77 464.88 L371.43 463.91 L373.37 464.27 L375.24 463.97 L377.09 464.55 L379.03 464.41 L380.88 464.97 L382.83 464.62 L384.63 465.53 L386.59 465.43 L388.53 465.90 L390.39 466.64 L392.21 467.47 L394.26 467.70 L396.05 468.88 L398.06 469.59 L399.93 470.56 L401.81 471.58 L403.07 472.77 L404.30 473.92 L404.27 474.20 L405.87 473.81 L407.36 473.97 L407.90 475.48 L408.57 477.09 L409.24 478.79 L410.90 479.84 L412.29 481.09 L413.68 482.45 L415.69 482.70 L417.66 482.88 L419.50 483.61 L421.30 483.97 L423.31 484.21 L422.63 486.55 L421.79 488.72 L419.39 490.71 L418.60 492.15 L417.99 493.70 L418.82 495.05 L421.49 494.78 L423.10 493.70" fill="none" stroke="#4D4D4D" stroke-width="1.1"/>
<path d="M410.10 89.00 L412.00 87.00 L418.40 86.70 L425.60 86.40 L430.70 86.70 L435.00 86.40 L441.30 88.40 L440.80 91.20 L439.60 95.70 L438.00 100.10 L435.70 103.50 L432.40 105.70 L427.90 107.90 L423.50 107.90 L419.00 109.10 L414.60 109.10 L410.10 110.70 L407.90 110.20 L408.40 105.70 L407.90 101.30 L409.00 96.80 L408.40 92.30 L410.10 89.00 Z M402.33 86.21 L406.21 84.27 L410.10 82.82 L413.98 80.87 L417.86 79.42 L421.75 78.93 L425.63 79.42 L424.66 80.87 L420.78 81.36 L416.89 82.82 L413.01 84.27 L409.13 85.73 L405.24 87.67 L402.33 89.13 L399.42 92.04 M404.27 89.13 L407.18 87.18 L411.07 85.73 L414.95 84.76 L420.78 84.27 L426.60 83.79 L428.54 84.76 L425.63 86.21 L420.78 86.21 L414.95 86.70 L410.10 88.16 L406.21 90.10 L403.30 93.01 L400.39 95.92 L397.48 98.83 L394.56 100.78 L391.65 102.72 L387.77 104.66 L383.88 106.12 L385.83 106.60 L389.71 105.63 L393.59 104.66 L397.48 102.72 L401.36 99.81 L405.24 96.89 L408.16 93.98 L409.13 91.07 L407.18 89.13 M428.54 107.77 L427.57 110.49 L425.63 114.37 L425.15 118.25 L425.63 120.97 M420.10 75.00 L418.40 77.20 L416.20 79.50 L413.40 81.10 L411.70 83.40 L409.50 85.60 L407.30 87.80 L405.60 90.10 L403.90 92.30 L402.20 95.10 L400.60 97.90 L398.90 101.20 L397.20 104.50 M413.40 79.50 L417.30 79.20 L421.70 78.90 L425.10 79.20 L425.60 80.00 L424.00 80.60 L420.10 80.60 L416.20 80.90 L413.40 81.10 M411.70 83.40 L417.30 83.60 L421.70 83.40 L426.20 83.40 L428.40 84.50 L428.40 86.20 L426.20 87.30 L422.90 86.70 L418.40 86.20 L413.90 86.20 L411.70 86.70 M403.40 89.50 L408.90 88.40 L411.70 89.50 L410.60 93.40 L411.70 94.50 L408.90 95.60 L407.30 97.90 L409.50 99.00 L412.80 99.50 L410.60 101.20 L407.80 101.80 L408.40 105.00 M430.49 107.09 L431.46 109.51 L434.37 109.03 L438.25 107.09 L441.17 103.69 L443.11 98.83 L445.05 95.44 L447.96 93.01" fill="none" stroke="#4D4D4D" stroke-width="1.1"/>
<path d="M450.00 92.04 L451.64 92.38 L452.97 92.51 L454.23 92.89 L455.45 93.38 L456.49 94.43 L457.96 94.21 L459.15 94.80 L460.27 95.61 L461.58 95.85 L462.66 96.79 L464.10 96.64 L465.38 96.97 L466.55 97.65 L467.97 97.54 L468.93 98.82 L470.40 98.54 L471.66 98.96 L472.59 99.89 L474.01 99.82 L474.83 101.00 L476.05 101.54 L477.45 101.14 L478.52 102.21 L479.88 101.93 L480.75 103.17 L482.13 103.87 L483.23 104.77 L484.16 104.09 L485.11 103.24 L486.60 102.91 L486.84 104.75 L488.16 105.38 L489.09 106.34 L489.53 107.79 L490.91 108.35 L491.71 109.58 L493.36 109.80 L493.84 111.23 L493.18 112.81 L494.43 113.96 L494.22 115.38 L495.02 116.36 L495.07 117.22 L494.03 118.23 L493.02 119.78 L493.21 121.51 L492.66 122.88 L491.53 124.01 L490.76 125.07 L491.41 126.51 L490.64 127.57 L490.76 128.87 L489.92 129.64 L490.52 128.30 L491.94 127.47 L493.22 126.52 L494.01 125.11 L495.67 124.57 L496.10 122.75 L497.36 122.06 L498.50 121.27 L499.73 120.59 L501.08 120.49 L501.98 119.45 L503.32 119.34 L504.56 119.04 L505.17 117.52 L506.53 117.89 L508.12 117.93 L509.71 118.52 L511.00 118.76 L512.34 118.93 L513.73 118.96 L514.80 119.90 M439.60 95.70 L439.19 97.21 L438.91 98.77 L438.39 100.29 L437.51 101.42 L436.18 102.17 L435.94 103.74 L434.69 104.36 L433.36 104.76 L432.37 105.65 L431.02 105.72 L430.16 106.81 L429.07 107.45 L427.87 107.75 L426.43 108.28 L424.97 107.36 L423.52 108.07 L422.04 108.45 L420.44 108.46 L419.06 109.57 L417.53 108.88 L416.07 108.63 L414.64 109.31 L412.90 109.06 L411.59 110.13 L410.10 110.33 L407.90 110.20" fill="none" stroke="#4D4D4D" stroke-width="2.0"/>
<rect x="443.6" y="301.5" width="12.8" height="8.8" rx="1.6" fill="none" stroke="#4D4D4D" stroke-width="1.1"/>
<circle cx="698.6" cy="72.8" r="1.1" fill="#4D4D4D"/>
<circle cx="658.0" cy="138.6" r="1.3" fill="#4D4D4D"/>
<circle cx="699.6" cy="372.4" r="1.0" fill="#4D4D4D"/>
<circle cx="440.4" cy="307.8" r="3.55" fill="#F8766D"/>
<circle cx="431.0" cy="314.1" r="3.55" fill="#EC8239"/>
<circle cx="471.2" cy="341.8" r="3.55" fill="#DB8E00"/>
<circle cx="403.8" cy="411.0" r="3.55" fill="#C79800"/>
<circle cx="354.5" cy="393.8" r="3.55" fill="#AEA200"/>
<circle cx="455.5" cy="395.0" r="3.55" fill="#8FAA00"/>
<circle cx="439.9" cy="396.9" r="3.55" fill="#64B200"/>
<circle cx="453.5" cy="310.5" r="3.55" fill="#00B81B"/>
<circle cx="470.4" cy="379.3" r="3.55" fill="#00BD5C"/>
<circle cx="507.3" cy="364.0" r="3.55" fill="#00C085"/>
<circle cx="370.0" cy="425.0" r="3.55" fill="#00C1A7"/>
<circle cx="428.1" cy="335.8" r="3.55" fill="#00BFC4"/>
<circle cx="409.2" cy="449.3" r="3.55" fill="#00BADE"/>
<circle cx="440.5" cy="243.0" r="3.55" fill="#00B2F3"/>
<circle cx="427.0" cy="449.3" r="3.55" fill="#00A6FF"/>
<circle cx="429.2" cy="408.9" r="3.55" fill="#7C96FF"/>
<circle cx="471.0" cy="387.1" r="3.55" fill="#B385FF"/>
<circle cx="468.5" cy="369.0" r="3.55" fill="#D874FD"/>
<circle cx="581.5" cy="254.7" r="3.55" fill="#EF67EB"/>
<circle cx="422.6" cy="314.1" r="3.55" fill="#D874FD"/>
<circle cx="474.5" cy="353.0" r="3.55" fill="#FF63B6"/>
<circle cx="453.4" cy="402.1" r="3.55" fill="#FF6B94"/>
</g>
<circle cx="596.9" cy="245.8" r="2.9" fill="#F8766D"/>
<text x="601.5" y="249.4" class="lg">Abadiania (1)</text>
<circle cx="596.9" cy="259.0" r="2.9" fill="#EC8239"/>
<text x="601.5" y="262.6" class="lg">Aparecida de Goiania (2)</text>
<circle cx="596.9" cy="272.3" r="2.9" fill="#DB8E00"/>
<text x="601.5" y="275.9" class="lg">Carmo do Paranaiba (1)</text>
<circle cx="596.9" cy="285.5" r="2.9" fill="#C79800"/>
<text x="601.5" y="289.1" class="lg">Ibiporã (1)</text>
<circle cx="596.9" cy="298.8" r="2.9" fill="#AEA200"/>
<text x="601.5" y="302.4" class="lg">Itaporã (1)</text>
<circle cx="596.9" cy="312.0" r="2.9" fill="#8FAA00"/>
<text x="601.5" y="315.6" class="lg">Lençois Paulista (1)</text>
<circle cx="596.9" cy="325.2" r="2.9" fill="#64B200"/>
<text x="601.5" y="328.8" class="lg">Limeira (1)</text>
<circle cx="596.9" cy="338.5" r="2.9" fill="#00B81B"/>
<text x="601.5" y="342.1" class="lg">Luziania (1)</text>
<circle cx="596.9" cy="351.7" r="2.9" fill="#00BD5C"/>
<text x="601.5" y="355.3" class="lg">Muzambinho (1)</text>
<circle cx="596.9" cy="365.0" r="2.9" fill="#00C085"/>
<text x="601.5" y="368.6" class="lg">Nova Lima (1)</text>
<circle cx="596.9" cy="378.2" r="2.9" fill="#00C1A7"/>
<text x="601.5" y="381.8" class="lg">Palotina (1)</text>
<circle cx="596.9" cy="391.4" r="2.9" fill="#00BFC4"/>
<text x="601.5" y="395.0" class="lg">Panamá (1)</text>
<circle cx="596.9" cy="404.7" r="2.9" fill="#00BADE"/>
<text x="601.5" y="408.3" class="lg">Paula Freitas (1)</text>
<circle cx="596.9" cy="417.9" r="2.9" fill="#00B2F3"/>
<text x="601.5" y="421.5" class="lg">Peixe (1)</text>
<circle cx="596.9" cy="431.2" r="2.9" fill="#00A6FF"/>
<text x="601.5" y="434.8" class="lg">Pien (1)</text>
<circle cx="596.9" cy="444.4" r="2.9" fill="#7C96FF"/>
<text x="601.5" y="448.0" class="lg">Piraju (1)</text>
<circle cx="596.9" cy="457.6" r="2.9" fill="#B385FF"/>
<text x="601.5" y="461.2" class="lg">Poços de Caldas (2)</text>
<circle cx="596.9" cy="470.9" r="2.9" fill="#D874FD"/>
<text x="601.5" y="474.5" class="lg">Pratápolis (1)</text>
<circle cx="596.9" cy="484.1" r="2.9" fill="#EF67EB"/>
<text x="601.5" y="487.7" class="lg">Salvador (1)</text>
<circle cx="596.9" cy="497.4" r="2.9" fill="#FD61D3"/>
<text x="601.5" y="501.0" class="lg">Santa Bárbara de Goiás (1)</text>
<circle cx="596.9" cy="510.6" r="2.9" fill="#FF63B6"/>
<text x="601.5" y="514.2" class="lg">São Gotardo (1)</text>
<circle cx="596.9" cy="523.8" r="2.9" fill="#FF6B94"/>
<text x="601.5" y="527.4" class="lg">Tietê (1)</text>
<rect x="85.5" y="2.5" width="628.5" height="562.1" fill="none" stroke="#B8B8B8" stroke-width="1.3"/>
<path d="M78.8 14.44H85.5M78.8 84.50H85.5M78.8 154.56H85.5M78.8 224.62H85.5M78.8 294.68H85.5M78.8 364.74H85.5M78.8 434.80H85.5M78.8 504.86H85.5M147.80 564.6V570.6M283.65 564.6V570.6M419.50 564.6V570.6M555.35 564.6V570.6M691.20 564.6V570.6" stroke="#BBBBBB" stroke-width="1.15" fill="none"/>
<text x="59.10" y="22.44" class="ax">N</text>
<circle cx="54.95" cy="12.44" r="2.45" fill="none" stroke="#5a5a5a" stroke-width="1.35"/>
<text x="51.00" y="22.44" class="ax" text-anchor="end">5</text>
<circle cx="69.35" cy="82.50" r="2.45" fill="none" stroke="#5a5a5a" stroke-width="1.35"/>
<text x="65.40" y="92.50" class="ax" text-anchor="end">0</text>
<text x="60.23" y="162.56" class="ax">S</text>
<circle cx="56.08" cy="152.56" r="2.45" fill="none" stroke="#5a5a5a" stroke-width="1.35"/>
<text x="52.13" y="162.56" class="ax" text-anchor="end">5</text>
<text x="60.23" y="232.62" class="ax">S</text>
<circle cx="56.08" cy="222.62" r="2.45" fill="none" stroke="#5a5a5a" stroke-width="1.35"/>
<text x="52.13" y="232.62" class="ax" text-anchor="end">10</text>
<text x="60.23" y="302.68" class="ax">S</text>
<circle cx="56.08" cy="292.68" r="2.45" fill="none" stroke="#5a5a5a" stroke-width="1.35"/>
<text x="52.13" y="302.68" class="ax" text-anchor="end">15</text>
<text x="60.23" y="372.74" class="ax">S</text>
<circle cx="56.08" cy="362.74" r="2.45" fill="none" stroke="#5a5a5a" stroke-width="1.35"/>
<text x="52.13" y="372.74" class="ax" text-anchor="end">20</text>
<text x="60.23" y="442.80" class="ax">S</text>
<circle cx="56.08" cy="432.80" r="2.45" fill="none" stroke="#5a5a5a" stroke-width="1.35"/>
<text x="52.13" y="442.80" class="ax" text-anchor="end">25</text>
<text x="60.23" y="512.86" class="ax">S</text>
<circle cx="56.08" cy="502.86" r="2.45" fill="none" stroke="#5a5a5a" stroke-width="1.35"/>
<text x="52.13" y="512.86" class="ax" text-anchor="end">30</text>
<text x="122.78" y="593.20" class="ax">70</text>
<circle cx="149.52" cy="583.20" r="2.45" fill="none" stroke="#5a5a5a" stroke-width="1.35"/>
<text x="153.67" y="593.20" class="ax">W</text>
<text x="258.63" y="593.20" class="ax">60</text>
<circle cx="285.37" cy="583.20" r="2.45" fill="none" stroke="#5a5a5a" stroke-width="1.35"/>
<text x="289.52" y="593.20" class="ax">W</text>
<text x="394.48" y="593.20" class="ax">50</text>
<circle cx="421.22" cy="583.20" r="2.45" fill="none" stroke="#5a5a5a" stroke-width="1.35"/>
<text x="425.37" y="593.20" class="ax">W</text>
<text x="530.33" y="593.20" class="ax">40</text>
<circle cx="557.07" cy="583.20" r="2.45" fill="none" stroke="#5a5a5a" stroke-width="1.35"/>
<text x="561.22" y="593.20" class="ax">W</text>
<text x="666.18" y="593.20" class="ax">30</text>
<circle cx="692.92" cy="583.20" r="2.45" fill="none" stroke="#5a5a5a" stroke-width="1.35"/>
<text x="697.07" y="593.20" class="ax">W</text>
<text x="398.4" y="621.8" class="at" text-anchor="middle">Longitude</text>
<text transform="translate(20.6 283.8) rotate(-90)" class="at" text-anchor="middle">Latitude</text>
<g>
<path d="M140.20 532.60 L140.45 533.28 L140.49 533.96 L140.26 534.62 L139.88 535.24 L139.56 535.85 L139.43 536.50 L139.48 537.19 L139.56 537.92 L139.48 538.60 L139.13 539.20 L138.61 539.71 L138.09 540.19 L137.74 540.74 L137.56 541.40 L137.45 542.12 L137.22 542.79 L136.78 543.31 L136.17 543.68 L135.52 543.99 L134.97 544.37 L134.59 544.92 L134.28 545.57 L133.91 546.18 L133.39 546.62 L132.72 546.85 L132.00 546.96 L131.34 547.14 L130.79 547.49 L130.31 548.01 L129.80 548.53 L129.20 548.88 L128.52 548.96 L127.79 548.88 L127.10 548.83 L126.45 548.96 L125.84 549.28 L125.22 549.66 L124.56 549.89 L123.88 549.85 L123.20 549.60 L122.54 549.32 L121.89 549.20 L121.22 549.30 L120.52 549.50 L119.82 549.59 L119.16 549.43 L118.56 549.04 L118.01 548.57 L117.44 548.22 L116.79 548.08 L116.07 548.06 L115.35 548.00 L114.73 547.73 L114.23 547.23 L113.83 546.62 L113.40 546.08 L112.86 545.72 L112.19 545.49 L111.51 545.25 L110.93 544.87 L110.55 544.29 L110.31 543.61 L110.08 542.94 L109.72 542.40 L109.18 541.97 L108.57 541.57 L108.07 541.07 L107.80 540.45 L107.74 539.73 L107.72 539.01 L107.58 538.36 L107.23 537.79 L106.76 537.24 L106.37 536.64 L106.21 535.98 L106.30 535.28 L106.50 534.58 L106.60 533.91 L106.48 533.26 L106.20 532.60 L105.95 531.92 L105.91 531.24 L106.14 530.58 L106.52 529.96 L106.84 529.35 L106.97 528.70 L106.92 528.01 L106.84 527.28 L106.92 526.60 L107.27 526.00 L107.79 525.49 L108.31 525.01 L108.66 524.46 L108.84 523.80 L108.95 523.08 L109.18 522.41 L109.62 521.89 L110.23 521.52 L110.88 521.21 L111.43 520.83 L111.81 520.28 L112.12 519.63 L112.49 519.02 L113.01 518.58 L113.68 518.35 L114.40 518.24 L115.06 518.06 L115.61 517.71 L116.09 517.19 L116.60 516.67 L117.20 516.32 L117.88 516.24 L118.61 516.32 L119.30 516.37 L119.95 516.24 L120.56 515.92 L121.18 515.54 L121.84 515.31 L122.52 515.35 L123.20 515.60 L123.86 515.88 L124.51 516.00 L125.18 515.90 L125.88 515.70 L126.58 515.61 L127.24 515.77 L127.84 516.16 L128.39 516.63 L128.96 516.98 L129.61 517.12 L130.33 517.14 L131.05 517.20 L131.67 517.47 L132.17 517.97 L132.57 518.58 L133.00 519.12 L133.54 519.48 L134.21 519.71 L134.89 519.95 L135.47 520.33 L135.85 520.91 L136.09 521.59 L136.32 522.26 L136.68 522.80 L137.22 523.23 L137.83 523.63 L138.33 524.13 L138.60 524.75 L138.66 525.47 L138.68 526.19 L138.82 526.84 L139.17 527.41 L139.64 527.96 L140.03 528.56 L140.19 529.22 L140.10 529.92 L139.90 530.62 L139.80 531.29 L139.92 531.94 L140.20 532.60Z" fill="none" stroke="#000" stroke-width="0.95"/>
<path d="M123.6 510.4 L109.4 550.2 L123.6 538.6 Z" fill="#fff" stroke="#000" stroke-width="0.95" stroke-linejoin="miter"/>
<path d="M123.4 510.4 L137.6 550.6 L123.4 538.6 Z" fill="#000" stroke="#000" stroke-width="0.9"/>
<text x="123.1" y="506.6" text-anchor="middle" style="font-size:12.6px;fill:#1a1a2e">N</text>
</g>
<rect x="577.3" y="546.1" width="25.8" height="10.5" fill="#000"/>
<rect x="603.1" y="546.1" width="24.9" height="10.5" fill="#fff"/>
<rect x="628.0" y="546.1" width="25.8" height="10.5" fill="#000"/>
<rect x="653.8" y="546.1" width="24.8" height="10.5" fill="#fff"/>
<rect x="678.6" y="546.1" width="26.0" height="10.5" fill="#000"/>
<rect x="577.3" y="546.1" width="127.3" height="10.5" fill="none" stroke="#000" stroke-width="0.8"/>
<text x="572.9" y="556.6" class="sb" text-anchor="end">1000 km</text>
</svg>
</body></html>
